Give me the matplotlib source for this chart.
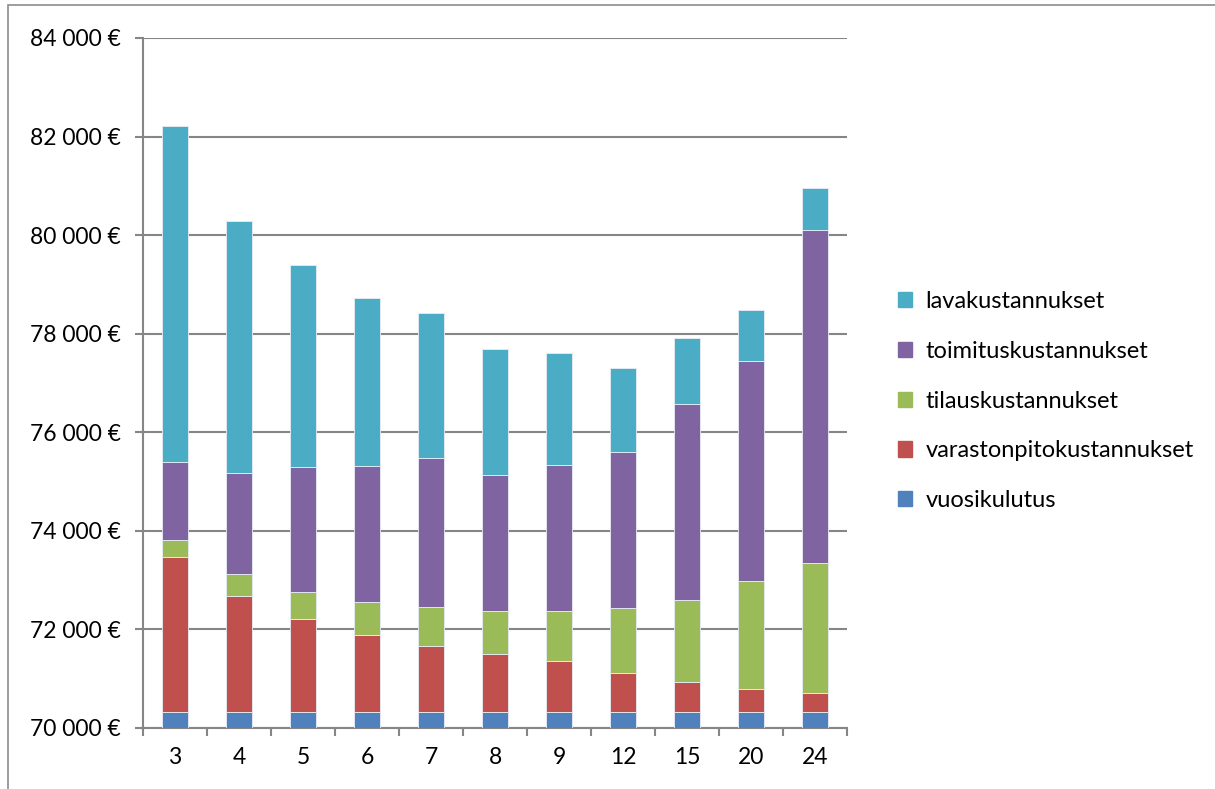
import matplotlib
matplotlib.use("Agg")
import matplotlib.pyplot as plt
import matplotlib.patches as mpatches
from matplotlib.ticker import FuncFormatter, FixedLocator
import numpy as np

plt.rcParams['font.family'] = ['Lato', 'DejaVu Sans']

# order interval (categories)
categories = ["3", "4", "5", "6", "7", "8", "9", "12", "15", "20", "24"]

# stacked cost components, euros
vuosikulutus = [70315] * 11
varastonpito = [3164, 2365, 1893, 1576, 1353, 1178, 1049, 793, 623, 469, 388]
tilaus = [330, 446, 554, 662, 777, 884, 1000, 1317, 1655, 2208, 2646]
toimitus = [1586, 2054, 2532, 2769, 3039, 2755, 2978, 3173, 3971, 4464, 6755]
lava = [6816, 5112, 4101, 3404, 2930, 2560, 2270, 1710, 1358, 1019, 851]

series_names = ["vuosikulutus", "varastonpitokustannukset", "tilauskustannukset",
                "toimituskustannukset", "lavakustannukset"]
series_values = [vuosikulutus, varastonpito, tilaus, toimitus, lava]
colors = ["#4F81BD", "#C0504D", "#9BBB59", "#8064A2", "#4BACC6"]

fig = plt.figure(figsize=(12.15, 7.89), dpi=100)
ax = fig.add_axes([143 / 1215, 1 - 728 / 789, 704 / 1215, 690 / 789])

# chart frame (Excel-style outer border)
fig.patches.append(mpatches.Rectangle((8 / 1215, -0.1), 1.2, 1 - 5 / 789 + 0.1,
                                      transform=fig.transFigure, fill=False,
                                      edgecolor="#8c8c8c", linewidth=1.2))

x = np.arange(len(categories))
bottom = np.zeros(len(categories))
for name, vals, c in zip(series_names, series_values, colors):
    ax.bar(x, vals, width=0.4, bottom=bottom, color=c, label=name,
           edgecolor="#e8eef5", linewidth=0.6, zorder=3)
    bottom = bottom + np.array(vals)

ax.set_ylim(70000, 84000)
ax.set_xlim(-0.5, len(categories) - 0.5)
ax.set_yticks(np.arange(70000, 84001, 2000))
ax.yaxis.set_major_formatter(FuncFormatter(lambda v, p: "{:,.0f} €".format(v).replace(",", " ")))
ax.set_xticks(x)
ax.set_xticklabels(categories)
ax.xaxis.set_minor_locator(FixedLocator(np.arange(-0.5, len(categories), 1.0)))

ax.grid(axis="y", color="#868686", linewidth=1.5, zorder=0)
for s in ["top", "right"]:
    ax.spines[s].set_visible(False)
for s in ["left", "bottom"]:
    ax.spines[s].set_color("#868686")
    ax.spines[s].set_linewidth(1.5)

ax.tick_params(axis="x", which="major", length=0, pad=14, labelsize=16.5)
ax.tick_params(axis="x", which="minor", length=6, width=1.5, color="#868686")
ax.tick_params(axis="y", length=6, width=1.5, color="#868686", pad=10, labelsize=16.5)

handles = [mpatches.Patch(color=c, label=n) for n, c in zip(series_names, colors)][::-1]
fig.legend(handles=handles, loc="center left", bbox_to_anchor=(886 / 1215, 1 - 401 / 789),
           frameon=False, fontsize=17, handlelength=0.62, handleheight=0.62,
           handletextpad=0.55, labelspacing=1.22, borderpad=0)

fig.savefig("out.png", dpi=100)
